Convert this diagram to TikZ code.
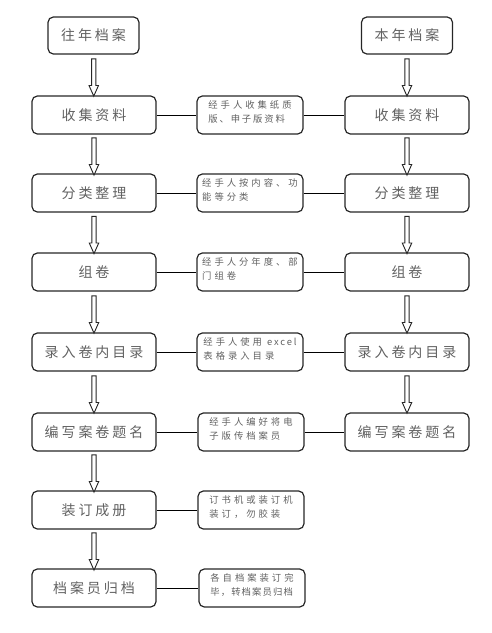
\documentclass[tikz,border=0pt]{standalone}
\usepackage{fontspec}
\usetikzlibrary{shapes.arrows,calc}
\newfontfamily\cjkmain[LetterSpace=21]{Noto Sans CJK SC}
\newfontfamily\cjksmall[LetterSpace=32]{Noto Sans CJK SC}
\newfontfamily\cjkmid[LetterSpace=20]{Noto Sans CJK SC}
\newfontfamily\cjktight[LetterSpace=12]{Noto Sans CJK SC}
\begin{document}
\begin{tikzpicture}[x=0.75pt,y=-0.75pt,
  basebox/.style={draw=black!85, line width=0.9pt, rounded corners=4pt, inner sep=0pt, text=black!62},
  mainbox/.style={basebox, minimum width=93pt, minimum height=28.5pt, font=\cjkmain\fontsize{10.5}{12}\selectfont},
  topbox/.style={basebox, minimum width=68.25pt, minimum height=27.75pt, font=\cjkmain\fontsize{10.5}{12}\selectfont},
  notebox/.style={basebox, minimum width=79.5pt, minimum height=28.5pt, align=left, text depth=5pt, font=\cjksmall\fontsize{7}{10.5}\selectfont},
  hollowarrow/.style={single arrow, draw=black!85, line width=0.7pt, fill=white, shape border rotate=270,
    inner sep=1.3pt, minimum height=28pt, minimum width=6.6pt, single arrow head extend=1.9pt, single arrow tip angle=48},
  link/.style={draw=black, line width=0.75pt}]
\useasboundingbox (0,0) rectangle (492,633);
% top boxes
\node[topbox] (t1) at (93.5,35.5) {往年档案};
\node[topbox] (t2) at (407,35.5) {本年档案};
% left column
\node[mainbox] (L1) at (94,115) {收集资料};
\node[mainbox] (L2) at (94,193) {分类整理};
\node[mainbox] (L3) at (94,272) {组卷};
\node[mainbox] (L4) at (94,352) {录入卷内目录};
\node[mainbox] (L5) at (94,432) {编写案卷题名};
\node[mainbox] (L6) at (94,510) {装订成册};
\node[mainbox] (L7) at (94,588) {档案员归档\hspace{12pt}};
% right column
\node[mainbox] (R1) at (407,115) {收集资料};
\node[mainbox] (R2) at (407,193) {分类整理};
\node[mainbox] (R3) at (407,272) {组卷};
\node[mainbox] (R4) at (407,352) {录入卷内目录};
\node[mainbox] (R5) at (407,432) {编写案卷题名};
% notes
\node[notebox] (N1) at (250,115) {经手人收集纸质\\{\cjkmid 版、申子版资料}};
\node[notebox] (N2) at (250,193) {经手人按内容、功\\能等分类};
\node[notebox] (N3) at (250,272) {经手人分年度、部\\门组卷};
\node[notebox] (N4) at (250,352) {经手人使用 {\cjkmid excel}\\表格录入目录};
\node[notebox] (N5) at (251,432) {经手人编好将电\\子版传档案员};
\node[notebox] (N6) at (251,510) {订书机或装订机\\装订，勿胶装};
\node[notebox] (N7) at (252,588) {各自档案装订完\\{\cjktight 毕，转档案员归档}};
% arrows
\node[hollowarrow] (a0) at ($(t1.south)!0.5!(L1.north)$) {};
\node[hollowarrow] (a1) at ($(L1.south)!0.5!(L2.north)$) {};
\node[hollowarrow] (a2) at ($(L2.south)!0.5!(L3.north)$) {};
\node[hollowarrow] (a3) at ($(L3.south)!0.5!(L4.north)$) {};
\node[hollowarrow] (a4) at ($(L4.south)!0.5!(L5.north)$) {};
\node[hollowarrow] (a5) at ($(L5.south)!0.5!(L6.north)$) {};
\node[hollowarrow] (a6) at ($(L6.south)!0.5!(L7.north)$) {};
\node[hollowarrow] (b0) at ($(t2.south)!0.5!(R1.north)$) {};
\node[hollowarrow] (b1) at ($(R1.south)!0.5!(R2.north)$) {};
\node[hollowarrow] (b2) at ($(R2.south)!0.5!(R3.north)$) {};
\node[hollowarrow] (b3) at ($(R3.south)!0.5!(R4.north)$) {};
\node[hollowarrow] (b4) at ($(R4.south)!0.5!(R5.north)$) {};
% connectors
\foreach \i in {1,...,7} {\draw[link] (L\i.east) -- (N\i.west);}
\foreach \i in {1,...,5} {\draw[link] (N\i.east) -- (R\i.west);}
\end{tikzpicture}
\end{document}
